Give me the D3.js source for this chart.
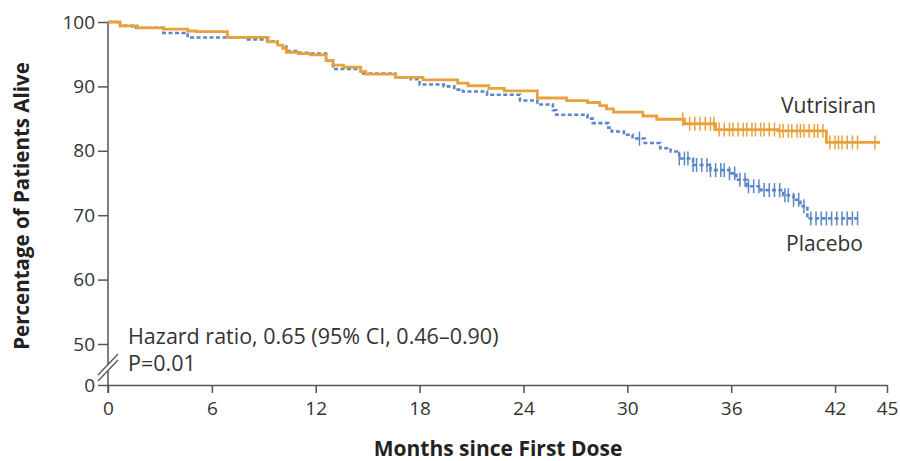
<!DOCTYPE html>
<html>
<head>
<meta charset="utf-8">
<script src="https://cdn.jsdelivr.net/npm/d3@7"></script>
<style>
  body { margin: 0; background: #fff; }
  text { font-family: "Open Sans", "Noto Sans", sans-serif; }
</style>
</head>
<body>
<div class="center"></div>
<script>
// Chart size
const width = 900;
const height = 461;

// Kaplan-Meier steps: [month, percent alive]
const vutrisiranSteps = [
  [0, 100], [0.7, 99.4], [1.7, 99.1], [3.2, 98.9], [4.6, 98.6], [5.1, 98.5],
  [6.9, 97.6], [9.25, 96.9], [9.8, 96.4], [10.1, 95.9], [10.3, 95.3], [11.0, 95.1],
  [11.7, 94.9], [12.6, 94.0], [13.0, 93.3], [13.6, 93.0], [14.6, 92.3], [14.9, 91.9],
  [16.6, 91.4], [18.2, 91.0], [20.2, 90.5], [20.8, 90.1], [22.0, 89.7], [22.9, 89.3],
  [24.8, 88.2], [26.5, 87.8], [27.7, 87.5], [28.4, 87.0], [28.8, 86.5], [29.2, 86.0],
  [30.9, 85.4], [31.7, 84.9], [33.3, 84.2], [35.1, 83.3], [38.7, 83.1], [41.5, 81.3],
  [44.6, 81.3]
];
const placeboSteps = [
  [0, 100], [0.7, 99.4], [1.4, 99.1], [3.2, 98.3], [4.6, 97.6], [8.0, 97.3],
  [9.2, 97.0], [9.8, 96.4], [10.3, 95.5], [11.0, 95.2], [11.7, 95.1], [12.6, 94.0],
  [13.0, 92.7], [14.6, 92.0], [16.6, 91.4], [17.5, 91.1], [18.0, 90.3], [19.4, 90.0],
  [20.0, 89.5], [20.5, 89.2], [21.9, 88.7], [23.8, 87.8], [24.8, 87.2], [25.7, 86.3],
  [25.9, 85.6], [27.7, 85.0], [28.0, 84.3], [28.9, 83.6], [29.1, 83.0], [29.8, 82.5],
  [30.3, 81.9], [31.0, 81.2], [31.9, 80.4], [32.5, 79.9], [33.0, 78.8], [33.8, 77.8],
  [34.8, 77.0], [35.9, 76.5], [36.3, 75.5], [36.9, 74.5], [37.7, 73.9], [39.0, 73.1],
  [39.6, 72.4], [40.0, 71.4], [40.4, 69.5], [43.4, 69.5]
];

// censored patients (months)
const vutrisiranCensor = [33.2, 33.6, 33.9, 34.2, 34.5, 34.8, 35.0, 35.3, 35.6, 35.9,
  36.1, 36.4, 36.7, 36.9, 37.2, 37.4, 37.7, 37.9, 38.2, 38.5, 38.8, 39.0, 39.3, 39.5,
  39.8, 40.0, 40.2, 40.5, 40.8, 41.0, 41.3, 41.7, 42.0, 42.2, 42.4, 42.7, 43.0, 43.3, 44.3];
const placeboCensor = [30.7, 33.0, 33.3, 33.5, 33.8, 34.0, 34.3, 34.6, 34.8, 35.1, 35.4,
  35.6, 35.9, 36.2, 36.5, 36.8, 37.0, 37.3, 37.6, 37.9, 38.2, 38.5, 38.8, 39.1, 39.3,
  39.6, 39.9, 40.2, 40.6, 40.9, 41.2, 41.5, 41.8, 42.1, 42.4, 42.7, 43.0, 43.3];

// tick labels
const xTicks = [0, 6, 12, 18, 24, 30, 36, 42, 45];
const yTicks = [0, 50, 60, 70, 80, 90, 100];

const orange = "#e9a23b";
const blue = "#5b87c6";
const axisColor = "#555";

const svg = d3.select(".center").append("svg")
  .attr("width", width)
  .attr("height", height);

// scales (y axis is broken between 0 and 50)
const xScale = d3.scaleLinear().domain([0, 45]).range([108, 887]);
const yScale = d3.scaleLinear().domain([0, 50, 100]).range([385, 344, 22]);

// axes
const xAxis = d3.axisBottom(xScale).tickValues(xTicks).tickSize(8).tickSizeOuter(0);
const gx = svg.append("g").attr("transform", `translate(0, ${yScale(0)})`).call(xAxis);
gx.select(".domain").attr("stroke", axisColor).attr("stroke-width", 1.5);
gx.selectAll(".tick line").attr("stroke", axisColor).attr("stroke-width", 1.5);
gx.selectAll(".tick text").attr("dy", "1.0em")
  .style("font-size", "19px").attr("fill", "#333");

const yAxis = d3.axisLeft(yScale).tickValues(yTicks).tickSize(10).tickSizeOuter(0);
const gy = svg.append("g").attr("transform", `translate(${xScale(0)}, 0)`).call(yAxis);
gy.select(".domain").remove();
gy.selectAll(".tick line").attr("stroke", axisColor).attr("stroke-width", 1.5);
gy.selectAll(".tick text").attr("x", -13)
  .style("font-size", "19px").attr("fill", "#333");

// y axis line runs below the x axis a little
svg.append("line")
  .attr("x1", xScale(0)).attr("x2", xScale(0))
  .attr("y1", yScale(100)).attr("y2", yScale(0) + 8)
  .attr("stroke", axisColor).attr("stroke-width", 1.5);

// break marks
const breakY = 364;
svg.append("polygon")
  .attr("points", `${xScale(0) - 9},${breakY + 11} ${xScale(0) + 9},${breakY - 9} ${xScale(0) + 9},${breakY - 3} ${xScale(0) - 9},${breakY + 17}`)
  .attr("fill", "#fff");
[0, 6].forEach(off => {
  svg.append("line")
    .attr("x1", xScale(0) - 10).attr("y1", breakY + 11 + off)
    .attr("x2", xScale(0) + 10).attr("y2", breakY - 10 + off)
    .attr("stroke", axisColor).attr("stroke-width", 1.3);
});

// survival curves
const line = d3.line()
  .x(d => xScale(d[0]))
  .y(d => yScale(d[1]))
  .curve(d3.curveStepAfter);

svg.append("path").datum(placeboSteps)
  .attr("d", line)
  .attr("fill", "none")
  .attr("stroke", blue)
  .attr("stroke-width", 2.6)
  .attr("stroke-dasharray", "4,2.5");

svg.append("path").datum(vutrisiranSteps)
  .attr("d", line)
  .attr("fill", "none")
  .attr("stroke", orange)
  .attr("stroke-width", 2.8);

// value of a step curve at month t
function stepAt(steps, t) {
  let v = steps[0][1];
  steps.forEach(s => { if (s[0] <= t) v = s[1]; });
  return v;
}

function drawCensor(times, steps, color) {
  svg.append("g").selectAll("line")
    .data(times)
    .enter().append("line")
    .attr("x1", d => xScale(d)).attr("x2", d => xScale(d))
    .attr("y1", d => yScale(stepAt(steps, d)) - 7)
    .attr("y2", d => yScale(stepAt(steps, d)) + 7)
    .attr("stroke", color)
    .attr("stroke-width", 1.5);
}
drawCensor(placeboCensor, placeboSteps, blue);
drawCensor(vutrisiranCensor, vutrisiranSteps, orange);

// series labels
svg.append("text").text("Vutrisiran")
  .attr("x", 781).attr("y", 113)
  .style("font-size", "21px").attr("fill", "#333");
svg.append("text").text("Placebo")
  .attr("x", 786).attr("y", 251)
  .style("font-size", "21px").attr("fill", "#333");

// hazard ratio note
svg.append("text").text("Hazard ratio, 0.65 (95% CI, 0.46\u20130.90)")
  .attr("x", 128).attr("y", 344)
  .style("font-size", "21.5px").attr("fill", "#333");
svg.append("text").text("P=0.01")
  .attr("x", 128).attr("y", 371)
  .style("font-size", "21.5px").attr("fill", "#333");

// axis titles
svg.append("text").text("Months since First Dose")
  .attr("x", 498).attr("y", 456)
  .attr("text-anchor", "middle")
  .style("font-size", "21px").style("font-weight", "700").attr("fill", "#222");

svg.append("text").text("Percentage of Patients Alive")
  .attr("transform", "rotate(-90)")
  .attr("x", -206).attr("y", 29)
  .attr("text-anchor", "middle")
  .style("font-size", "20.5px").style("font-weight", "700").attr("fill", "#222");
</script>
</body>
</html>
